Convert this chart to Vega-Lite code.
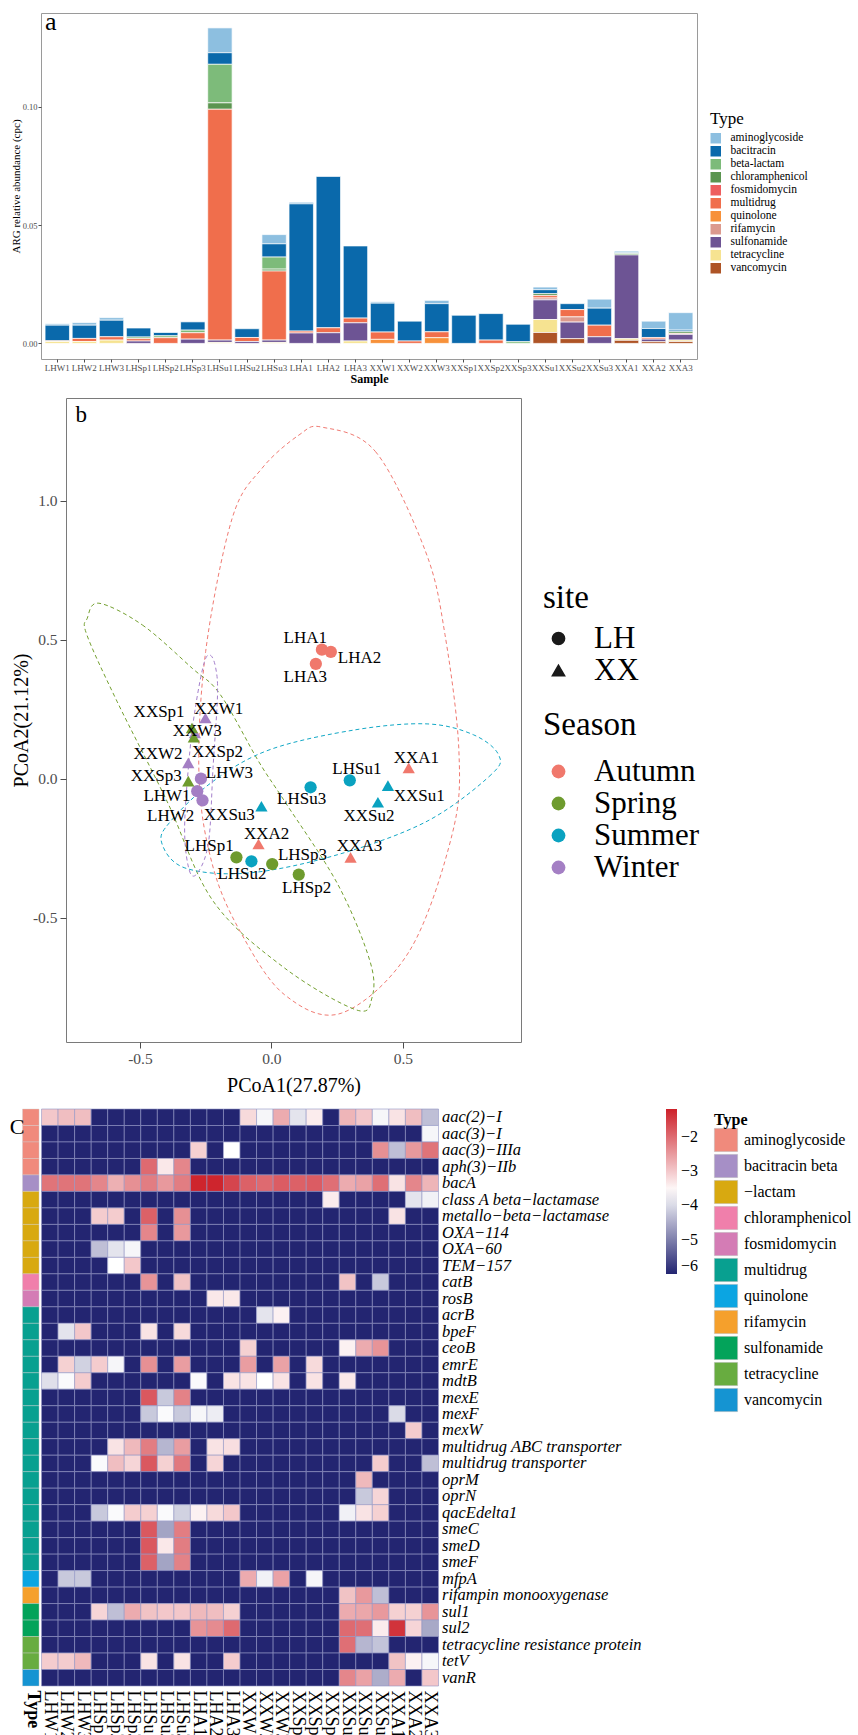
{
"$schema": "https://vega.github.io/schema/vega-lite/v6.json",
"background": "white",
"padding": {"left": 8, "top": 8, "right": 0, "bottom": 0},
"spacing": 12,
"config": {
 "font": "Liberation Serif",
 "view": {"stroke": "#999999"},
 "axis": {"grid": false, "labelColor": "#4d4d4d", "tickColor": "#4d4d4d", "titleColor": "black", "titleFontWeight": "normal"},
 "legend": {"padding": 0, "titleFontWeight": "normal", "titleColor": "black", "labelColor": "black"}
},
"resolve": {"scale": {"color": "independent", "shape": "independent", "stroke": "independent"}, "legend": {"color": "independent", "shape": "independent"}},
"datasets": {
 "bars": [
  {"sample":"LHW1","Type":"aminoglycoside","value":0.0006},{"sample":"LHW1","Type":"bacitracin","value":0.0066},{"sample":"LHW1","Type":"multidrug","value":0.0003},{"sample":"LHW1","Type":"tetracycline","value":0.0008},
  {"sample":"LHW2","Type":"aminoglycoside","value":0.0011},{"sample":"LHW2","Type":"bacitracin","value":0.0056},{"sample":"LHW2","Type":"multidrug","value":0.0013},{"sample":"LHW2","Type":"tetracycline","value":0.0008},
  {"sample":"LHW3","Type":"aminoglycoside","value":0.0011},{"sample":"LHW3","Type":"bacitracin","value":0.007},{"sample":"LHW3","Type":"multidrug","value":0.0014},{"sample":"LHW3","Type":"tetracycline","value":0.0014},
  {"sample":"LHSp1","Type":"bacitracin","value":0.0038},{"sample":"LHSp1","Type":"beta-lactam","value":0.0007},{"sample":"LHSp1","Type":"multidrug","value":0.001},{"sample":"LHSp1","Type":"sulfonamide","value":0.001},
  {"sample":"LHSp2","Type":"bacitracin","value":0.0014},{"sample":"LHSp2","Type":"beta-lactam","value":0.0008},{"sample":"LHSp2","Type":"multidrug","value":0.0024},
  {"sample":"LHSp3","Type":"bacitracin","value":0.0035},{"sample":"LHSp3","Type":"beta-lactam","value":0.0011},{"sample":"LHSp3","Type":"multidrug","value":0.0027},{"sample":"LHSp3","Type":"sulfonamide","value":0.0018},
  {"sample":"LHSu1","Type":"aminoglycoside","value":0.0105},{"sample":"LHSu1","Type":"bacitracin","value":0.0049},{"sample":"LHSu1","Type":"beta-lactam","value":0.0163},{"sample":"LHSu1","Type":"chloramphenicol","value":0.0027},{"sample":"LHSu1","Type":"multidrug","value":0.0976},{"sample":"LHSu1","Type":"sulfonamide","value":0.001},{"sample":"LHSu1","Type":"tetracycline","value":0.0004},
  {"sample":"LHSu2","Type":"bacitracin","value":0.0037},{"sample":"LHSu2","Type":"multidrug","value":0.0017},{"sample":"LHSu2","Type":"sulfonamide","value":0.0008},
  {"sample":"LHSu3","Type":"aminoglycoside","value":0.0039},{"sample":"LHSu3","Type":"bacitracin","value":0.0056},{"sample":"LHSu3","Type":"beta-lactam","value":0.0051},{"sample":"LHSu3","Type":"chloramphenicol","value":0.0008},{"sample":"LHSu3","Type":"multidrug","value":0.0292},{"sample":"LHSu3","Type":"sulfonamide","value":0.001},{"sample":"LHSu3","Type":"tetracycline","value":0.0004},
  {"sample":"LHA1","Type":"aminoglycoside","value":0.0007},{"sample":"LHA1","Type":"bacitracin","value":0.0538},{"sample":"LHA1","Type":"multidrug","value":0.0008},{"sample":"LHA1","Type":"sulfonamide","value":0.0044},
  {"sample":"LHA2","Type":"bacitracin","value":0.064},{"sample":"LHA2","Type":"multidrug","value":0.0021},{"sample":"LHA2","Type":"sulfonamide","value":0.0045},
  {"sample":"LHA3","Type":"bacitracin","value":0.0305},{"sample":"LHA3","Type":"multidrug","value":0.002},{"sample":"LHA3","Type":"sulfonamide","value":0.0077},{"sample":"LHA3","Type":"tetracycline","value":0.001},
  {"sample":"XXW1","Type":"aminoglycoside","value":0.0006},{"sample":"XXW1","Type":"bacitracin","value":0.0122},{"sample":"XXW1","Type":"multidrug","value":0.0031},{"sample":"XXW1","Type":"quinolone","value":0.0017},
  {"sample":"XXW2","Type":"bacitracin","value":0.0084},{"sample":"XXW2","Type":"multidrug","value":0.001},
  {"sample":"XXW3","Type":"aminoglycoside","value":0.0014},{"sample":"XXW3","Type":"bacitracin","value":0.0119},{"sample":"XXW3","Type":"multidrug","value":0.0025},{"sample":"XXW3","Type":"quinolone","value":0.0024},
  {"sample":"XXSp1","Type":"bacitracin","value":0.0119},
  {"sample":"XXSp2","Type":"bacitracin","value":0.0112},{"sample":"XXSp2","Type":"multidrug","value":0.0014},
  {"sample":"XXSp3","Type":"bacitracin","value":0.0074},{"sample":"XXSp3","Type":"beta-lactam","value":0.0007},
  {"sample":"XXSu1","Type":"aminoglycoside","value":0.0011},{"sample":"XXSu1","Type":"bacitracin","value":0.0017},{"sample":"XXSu1","Type":"chloramphenicol","value":0.0008},{"sample":"XXSu1","Type":"multidrug","value":0.001},{"sample":"XXSu1","Type":"rifamycin","value":0.0008},{"sample":"XXSu1","Type":"sulfonamide","value":0.0083},{"sample":"XXSu1","Type":"tetracycline","value":0.0055},{"sample":"XXSu1","Type":"vancomycin","value":0.0046},
  {"sample":"XXSu2","Type":"bacitracin","value":0.0025},{"sample":"XXSu2","Type":"multidrug","value":0.0031},{"sample":"XXSu2","Type":"rifamycin","value":0.0022},{"sample":"XXSu2","Type":"sulfonamide","value":0.007},{"sample":"XXSu2","Type":"vancomycin","value":0.002},
  {"sample":"XXSu3","Type":"aminoglycoside","value":0.0038},{"sample":"XXSu3","Type":"bacitracin","value":0.0072},{"sample":"XXSu3","Type":"multidrug","value":0.0049},{"sample":"XXSu3","Type":"sulfonamide","value":0.0028},
  {"sample":"XXA1","Type":"aminoglycoside","value":0.0006},{"sample":"XXA1","Type":"bacitracin","value":0.0004},{"sample":"XXA1","Type":"chloramphenicol","value":0.0006},{"sample":"XXA1","Type":"sulfonamide","value":0.0354},{"sample":"XXA1","Type":"tetracycline","value":0.0007},{"sample":"XXA1","Type":"vancomycin","value":0.0013},
  {"sample":"XXA2","Type":"aminoglycoside","value":0.0031},{"sample":"XXA2","Type":"bacitracin","value":0.0038},{"sample":"XXA2","Type":"multidrug","value":0.0007},{"sample":"XXA2","Type":"sulfonamide","value":0.0011},{"sample":"XXA2","Type":"vancomycin","value":0.0007},
  {"sample":"XXA3","Type":"aminoglycoside","value":0.0074},{"sample":"XXA3","Type":"bacitracin","value":0.0007},{"sample":"XXA3","Type":"chloramphenicol","value":0.0007},{"sample":"XXA3","Type":"multidrug","value":0.0004},{"sample":"XXA3","Type":"sulfonamide","value":0.0024},{"sample":"XXA3","Type":"tetracycline","value":0.0006},{"sample":"XXA3","Type":"vancomycin","value":0.0008}
 ],
 "pcoa": [
  {"sample":"LHW1","site":"LH","Season":"Winter","PCoA1":-0.282,"PCoA2":-0.044,"lx":-0.397,"ly":-0.062},
  {"sample":"LHW2","site":"LH","Season":"Winter","PCoA1":-0.262,"PCoA2":-0.077,"lx":-0.383,"ly":-0.134},
  {"sample":"LHW3","site":"LH","Season":"Winter","PCoA1":-0.268,"PCoA2":0.001,"lx":-0.16,"ly":0.022},
  {"sample":"LHSp1","site":"LH","Season":"Spring","PCoA1":-0.133,"PCoA2":-0.282,"lx":-0.237,"ly":-0.24},
  {"sample":"LHSp2","site":"LH","Season":"Spring","PCoA1":0.104,"PCoA2":-0.344,"lx":0.134,"ly":-0.392},
  {"sample":"LHSp3","site":"LH","Season":"Spring","PCoA1":0.003,"PCoA2":-0.306,"lx":0.118,"ly":-0.272},
  {"sample":"LHSu1","site":"LH","Season":"Summer","PCoA1":0.298,"PCoA2":-0.005,"lx":0.325,"ly":0.034},
  {"sample":"LHSu2","site":"LH","Season":"Summer","PCoA1":-0.076,"PCoA2":-0.296,"lx":-0.112,"ly":-0.342},
  {"sample":"LHSu3","site":"LH","Season":"Summer","PCoA1":0.149,"PCoA2":-0.03,"lx":0.115,"ly":-0.072},
  {"sample":"LHA1","site":"LH","Season":"Autumn","PCoA1":0.192,"PCoA2":0.465,"lx":0.129,"ly":0.507},
  {"sample":"LHA2","site":"LH","Season":"Autumn","PCoA1":0.226,"PCoA2":0.457,"lx":0.335,"ly":0.435},
  {"sample":"LHA3","site":"LH","Season":"Autumn","PCoA1":0.169,"PCoA2":0.414,"lx":0.129,"ly":0.366},
  {"sample":"XXW1","site":"XX","Season":"Winter","PCoA1":-0.251,"PCoA2":0.219,"lx":-0.2,"ly":0.253},
  {"sample":"XXW2","site":"XX","Season":"Winter","PCoA1":-0.316,"PCoA2":0.058,"lx":-0.431,"ly":0.088},
  {"sample":"XXW3","site":"XX","Season":"Winter","PCoA1":-0.291,"PCoA2":0.165,"lx":-0.282,"ly":0.171},
  {"sample":"XXSp1","site":"XX","Season":"Spring","PCoA1":-0.302,"PCoA2":0.183,"lx":-0.427,"ly":0.241},
  {"sample":"XXSp2","site":"XX","Season":"Spring","PCoA1":-0.295,"PCoA2":0.15,"lx":-0.205,"ly":0.097},
  {"sample":"XXSp3","site":"XX","Season":"Spring","PCoA1":-0.316,"PCoA2":-0.008,"lx":-0.438,"ly":0.01},
  {"sample":"XXSu1","site":"XX","Season":"Summer","PCoA1":0.443,"PCoA2":-0.024,"lx":0.562,"ly":-0.062},
  {"sample":"XXSu2","site":"XX","Season":"Summer","PCoA1":0.405,"PCoA2":-0.084,"lx":0.371,"ly":-0.134},
  {"sample":"XXSu3","site":"XX","Season":"Summer","PCoA1":-0.038,"PCoA2":-0.098,"lx":-0.16,"ly":-0.128},
  {"sample":"XXA1","site":"XX","Season":"Autumn","PCoA1":0.522,"PCoA2":0.04,"lx":0.551,"ly":0.076},
  {"sample":"XXA2","site":"XX","Season":"Autumn","PCoA1":-0.049,"PCoA2":-0.234,"lx":-0.018,"ly":-0.198},
  {"sample":"XXA3","site":"XX","Season":"Autumn","PCoA1":0.301,"PCoA2":-0.282,"lx":0.335,"ly":-0.242}
 ],
 "ellipse": [
  {"grp":"Autumn","i":0,"PCoA1":0.193,"PCoA2":1.265},{"grp":"Autumn","i":1,"PCoA1":0.396,"PCoA2":1.177},{"grp":"Autumn","i":2,"PCoA1":0.586,"PCoA2":0.818},{"grp":"Autumn","i":3,"PCoA1":0.66,"PCoA2":0.519},{"grp":"Autumn","i":4,"PCoA1":0.713,"PCoA2":0.098},{"grp":"Autumn","i":5,"PCoA1":0.687,"PCoA2":-0.2},{"grp":"Autumn","i":6,"PCoA1":0.524,"PCoA2":-0.62},{"grp":"Autumn","i":7,"PCoA1":0.267,"PCoA2":-0.842},{"grp":"Autumn","i":8,"PCoA1":0.05,"PCoA2":-0.776},{"grp":"Autumn","i":9,"PCoA1":-0.112,"PCoA2":-0.56},{"grp":"Autumn","i":10,"PCoA1":-0.221,"PCoA2":-0.32},{"grp":"Autumn","i":11,"PCoA1":-0.275,"PCoA2":0.004},{"grp":"Autumn","i":12,"PCoA1":-0.25,"PCoA2":0.458},{"grp":"Autumn","i":13,"PCoA1":-0.149,"PCoA2":0.938},{"grp":"Autumn","i":14,"PCoA1":-0.035,"PCoA2":1.118},{"grp":"Autumn","i":15,"PCoA1":0.105,"PCoA2":1.237},
  {"grp":"Spring","i":0,"PCoA1":-0.656,"PCoA2":0.632},{"grp":"Spring","i":1,"PCoA1":-0.491,"PCoA2":0.554},{"grp":"Spring","i":2,"PCoA1":-0.301,"PCoA2":0.398},{"grp":"Spring","i":3,"PCoA1":-0.194,"PCoA2":0.303},{"grp":"Spring","i":4,"PCoA1":-0.048,"PCoA2":0.062},{"grp":"Spring","i":5,"PCoA1":0.05,"PCoA2":-0.08},{"grp":"Spring","i":6,"PCoA1":0.253,"PCoA2":-0.38},{"grp":"Spring","i":7,"PCoA1":0.375,"PCoA2":-0.656},{"grp":"Spring","i":8,"PCoA1":0.382,"PCoA2":-0.788},{"grp":"Spring","i":9,"PCoA1":0.321,"PCoA2":-0.83},{"grp":"Spring","i":10,"PCoA1":0.05,"PCoA2":-0.68},{"grp":"Spring","i":11,"PCoA1":-0.221,"PCoA2":-0.44},{"grp":"Spring","i":12,"PCoA1":-0.397,"PCoA2":-0.08},{"grp":"Spring","i":13,"PCoA1":-0.587,"PCoA2":0.279},{"grp":"Spring","i":14,"PCoA1":-0.702,"PCoA2":0.519},{"grp":"Spring","i":15,"PCoA1":-0.7,"PCoA2":0.578},
  {"grp":"Summer","i":0,"PCoA1":0.863,"PCoA2":0.088},{"grp":"Summer","i":1,"PCoA1":0.836,"PCoA2":0.016},{"grp":"Summer","i":2,"PCoA1":0.592,"PCoA2":-0.152},{"grp":"Summer","i":3,"PCoA1":0.253,"PCoA2":-0.272},{"grp":"Summer","i":4,"PCoA1":-0.085,"PCoA2":-0.338},{"grp":"Summer","i":5,"PCoA1":-0.329,"PCoA2":-0.32},{"grp":"Summer","i":6,"PCoA1":-0.417,"PCoA2":-0.23},{"grp":"Summer","i":7,"PCoA1":-0.383,"PCoA2":-0.152},{"grp":"Summer","i":8,"PCoA1":-0.221,"PCoA2":-0.008},{"grp":"Summer","i":9,"PCoA1":-0.004,"PCoA2":0.106},{"grp":"Summer","i":10,"PCoA1":0.321,"PCoA2":0.177},{"grp":"Summer","i":11,"PCoA1":0.592,"PCoA2":0.198},{"grp":"Summer","i":12,"PCoA1":0.768,"PCoA2":0.159},
  {"grp":"Winter","i":0,"PCoA1":-0.232,"PCoA2":0.445},{"grp":"Winter","i":1,"PCoA1":-0.212,"PCoA2":0.4},{"grp":"Winter","i":2,"PCoA1":-0.205,"PCoA2":0.3},{"grp":"Winter","i":3,"PCoA1":-0.222,"PCoA2":0.04},{"grp":"Winter","i":4,"PCoA1":-0.238,"PCoA2":-0.22},{"grp":"Winter","i":5,"PCoA1":-0.275,"PCoA2":-0.33},{"grp":"Winter","i":6,"PCoA1":-0.31,"PCoA2":-0.335},{"grp":"Winter","i":7,"PCoA1":-0.33,"PCoA2":-0.18},{"grp":"Winter","i":8,"PCoA1":-0.31,"PCoA2":0.1},{"grp":"Winter","i":9,"PCoA1":-0.285,"PCoA2":0.28},{"grp":"Winter","i":10,"PCoA1":-0.255,"PCoA2":0.42}
 ],
 "annot": [
  {"gene":"aac(2)−I","ARG":"aminoglycoside"},{"gene":"aac(3)−I","ARG":"aminoglycoside"},{"gene":"aac(3)−IIIa","ARG":"aminoglycoside"},{"gene":"aph(3)−IIb","ARG":"aminoglycoside"},{"gene":"bacA","ARG":"bacitracin"},{"gene":"class A beta−lactamase","ARG":"beta-lactam"},{"gene":"metallo−beta−lactamase","ARG":"beta-lactam"},{"gene":"OXA−114","ARG":"beta-lactam"},{"gene":"OXA−60","ARG":"beta-lactam"},{"gene":"TEM−157","ARG":"beta-lactam"},{"gene":"catB","ARG":"chloramphenicol"},{"gene":"rosB","ARG":"fosmidomycin"},{"gene":"acrB","ARG":"multidrug"},{"gene":"bpeF","ARG":"multidrug"},{"gene":"ceoB","ARG":"multidrug"},{"gene":"emrE","ARG":"multidrug"},{"gene":"mdtB","ARG":"multidrug"},{"gene":"mexE","ARG":"multidrug"},{"gene":"mexF","ARG":"multidrug"},{"gene":"mexW","ARG":"multidrug"},{"gene":"multidrug ABC transporter","ARG":"multidrug"},{"gene":"multidrug transporter","ARG":"multidrug"},{"gene":"oprM","ARG":"multidrug"},{"gene":"oprN","ARG":"multidrug"},{"gene":"qacEdelta1","ARG":"multidrug"},{"gene":"smeC","ARG":"multidrug"},{"gene":"smeD","ARG":"multidrug"},{"gene":"smeF","ARG":"multidrug"},{"gene":"mfpA","ARG":"quinolone"},{"gene":"rifampin monooxygenase","ARG":"rifamycin"},{"gene":"sul1","ARG":"sulfonamide"},{"gene":"sul2","ARG":"sulfonamide"},{"gene":"tetracycline resistance protein","ARG":"tetracycline"},{"gene":"tetV","ARG":"tetracycline"},{"gene":"vanR","ARG":"vancomycin"}
 ],
 "heat": [
{"g":"aac(2)−I","s":"LHW1","v":-3.0},{"g":"aac(2)−I","s":"LHW2","v":-2.9},{"g":"aac(2)−I","s":"LHW3","v":-2.9},{"g":"aac(2)−I","s":"LHSp1","v":-6},{"g":"aac(2)−I","s":"LHSp2","v":-6},{"g":"aac(2)−I","s":"LHSp3","v":-6},{"g":"aac(2)−I","s":"LHSu1","v":-6},{"g":"aac(2)−I","s":"LHSu2","v":-6},{"g":"aac(2)−I","s":"LHSu3","v":-6},{"g":"aac(2)−I","s":"LHA1","v":-6},{"g":"aac(2)−I","s":"LHA2","v":-6},{"g":"aac(2)−I","s":"LHA3","v":-6},{"g":"aac(2)−I","s":"XXW1","v":-3.2},{"g":"aac(2)−I","s":"XXW2","v":-3.7},{"g":"aac(2)−I","s":"XXW3","v":-2.7},{"g":"aac(2)−I","s":"XXSp1","v":-3.9},{"g":"aac(2)−I","s":"XXSp2","v":-3.4},{"g":"aac(2)−I","s":"XXSp3","v":-6},{"g":"aac(2)−I","s":"XXSu1","v":-2.8},{"g":"aac(2)−I","s":"XXSu2","v":-3.0},{"g":"aac(2)−I","s":"XXSu3","v":-3.7},{"g":"aac(2)−I","s":"XXA1","v":-3.3},{"g":"aac(2)−I","s":"XXA2","v":-2.9},{"g":"aac(2)−I","s":"XXA3","v":-4.3},
{"g":"aac(3)−I","s":"LHW1","v":-6},{"g":"aac(3)−I","s":"LHW2","v":-6},{"g":"aac(3)−I","s":"LHW3","v":-6},{"g":"aac(3)−I","s":"LHSp1","v":-6},{"g":"aac(3)−I","s":"LHSp2","v":-6},{"g":"aac(3)−I","s":"LHSp3","v":-6},{"g":"aac(3)−I","s":"LHSu1","v":-6},{"g":"aac(3)−I","s":"LHSu2","v":-6},{"g":"aac(3)−I","s":"LHSu3","v":-6},{"g":"aac(3)−I","s":"LHA1","v":-6},{"g":"aac(3)−I","s":"LHA2","v":-6},{"g":"aac(3)−I","s":"LHA3","v":-6},{"g":"aac(3)−I","s":"XXW1","v":-6},{"g":"aac(3)−I","s":"XXW2","v":-6},{"g":"aac(3)−I","s":"XXW3","v":-6},{"g":"aac(3)−I","s":"XXSp1","v":-6},{"g":"aac(3)−I","s":"XXSp2","v":-6},{"g":"aac(3)−I","s":"XXSp3","v":-6},{"g":"aac(3)−I","s":"XXSu1","v":-6},{"g":"aac(3)−I","s":"XXSu2","v":-6},{"g":"aac(3)−I","s":"XXSu3","v":-6},{"g":"aac(3)−I","s":"XXA1","v":-6},{"g":"aac(3)−I","s":"XXA2","v":-6},{"g":"aac(3)−I","s":"XXA3","v":-3.7},
{"g":"aac(3)−IIIa","s":"LHW1","v":-6},{"g":"aac(3)−IIIa","s":"LHW2","v":-6},{"g":"aac(3)−IIIa","s":"LHW3","v":-6},{"g":"aac(3)−IIIa","s":"LHSp1","v":-6},{"g":"aac(3)−IIIa","s":"LHSp2","v":-6},{"g":"aac(3)−IIIa","s":"LHSp3","v":-6},{"g":"aac(3)−IIIa","s":"LHSu1","v":-6},{"g":"aac(3)−IIIa","s":"LHSu2","v":-6},{"g":"aac(3)−IIIa","s":"LHSu3","v":-6},{"g":"aac(3)−IIIa","s":"LHA1","v":-3.1},{"g":"aac(3)−IIIa","s":"LHA2","v":-6},{"g":"aac(3)−IIIa","s":"LHA3","v":-3.6},{"g":"aac(3)−IIIa","s":"XXW1","v":-6},{"g":"aac(3)−IIIa","s":"XXW2","v":-6},{"g":"aac(3)−IIIa","s":"XXW3","v":-6},{"g":"aac(3)−IIIa","s":"XXSp1","v":-6},{"g":"aac(3)−IIIa","s":"XXSp2","v":-6},{"g":"aac(3)−IIIa","s":"XXSp3","v":-6},{"g":"aac(3)−IIIa","s":"XXSu1","v":-6},{"g":"aac(3)−IIIa","s":"XXSu2","v":-6},{"g":"aac(3)−IIIa","s":"XXSu3","v":-2.4},{"g":"aac(3)−IIIa","s":"XXA1","v":-4.3},{"g":"aac(3)−IIIa","s":"XXA2","v":-2.5},{"g":"aac(3)−IIIa","s":"XXA3","v":-2.1},
{"g":"aph(3)−IIb","s":"LHW1","v":-6},{"g":"aph(3)−IIb","s":"LHW2","v":-6},{"g":"aph(3)−IIb","s":"LHW3","v":-6},{"g":"aph(3)−IIb","s":"LHSp1","v":-6},{"g":"aph(3)−IIb","s":"LHSp2","v":-6},{"g":"aph(3)−IIb","s":"LHSp3","v":-6},{"g":"aph(3)−IIb","s":"LHSu1","v":-2.0},{"g":"aph(3)−IIb","s":"LHSu2","v":-3.35},{"g":"aph(3)−IIb","s":"LHSu3","v":-2.3},{"g":"aph(3)−IIb","s":"LHA1","v":-6},{"g":"aph(3)−IIb","s":"LHA2","v":-6},{"g":"aph(3)−IIb","s":"LHA3","v":-6},{"g":"aph(3)−IIb","s":"XXW1","v":-6},{"g":"aph(3)−IIb","s":"XXW2","v":-6},{"g":"aph(3)−IIb","s":"XXW3","v":-6},{"g":"aph(3)−IIb","s":"XXSp1","v":-6},{"g":"aph(3)−IIb","s":"XXSp2","v":-6},{"g":"aph(3)−IIb","s":"XXSp3","v":-6},{"g":"aph(3)−IIb","s":"XXSu1","v":-6},{"g":"aph(3)−IIb","s":"XXSu2","v":-6},{"g":"aph(3)−IIb","s":"XXSu3","v":-6},{"g":"aph(3)−IIb","s":"XXA1","v":-6},{"g":"aph(3)−IIb","s":"XXA2","v":-6},{"g":"aph(3)−IIb","s":"XXA3","v":-6},
{"g":"bacA","s":"LHW1","v":-2.1},{"g":"bacA","s":"LHW2","v":-2.1},{"g":"bacA","s":"LHW3","v":-2.1},{"g":"bacA","s":"LHSp1","v":-2.3},{"g":"bacA","s":"LHSp2","v":-2.75},{"g":"bacA","s":"LHSp3","v":-2.4},{"g":"bacA","s":"LHSu1","v":-2.2},{"g":"bacA","s":"LHSu2","v":-2.5},{"g":"bacA","s":"LHSu3","v":-2.2},{"g":"bacA","s":"LHA1","v":-1.25},{"g":"bacA","s":"LHA2","v":-1.25},{"g":"bacA","s":"LHA3","v":-1.6},{"g":"bacA","s":"XXW1","v":-1.9},{"g":"bacA","s":"XXW2","v":-2.0},{"g":"bacA","s":"XXW3","v":-1.85},{"g":"bacA","s":"XXSp1","v":-1.9},{"g":"bacA","s":"XXSp2","v":-1.85},{"g":"bacA","s":"XXSp3","v":-2.05},{"g":"bacA","s":"XXSu1","v":-2.7},{"g":"bacA","s":"XXSu2","v":-2.6},{"g":"bacA","s":"XXSu3","v":-2.05},{"g":"bacA","s":"XXA1","v":-3.3},{"g":"bacA","s":"XXA2","v":-2.3},{"g":"bacA","s":"XXA3","v":-2.8},
{"g":"class A beta−lactamase","s":"LHW1","v":-6},{"g":"class A beta−lactamase","s":"LHW2","v":-6},{"g":"class A beta−lactamase","s":"LHW3","v":-6},{"g":"class A beta−lactamase","s":"LHSp1","v":-6},{"g":"class A beta−lactamase","s":"LHSp2","v":-6},{"g":"class A beta−lactamase","s":"LHSp3","v":-6},{"g":"class A beta−lactamase","s":"LHSu1","v":-6},{"g":"class A beta−lactamase","s":"LHSu2","v":-6},{"g":"class A beta−lactamase","s":"LHSu3","v":-6},{"g":"class A beta−lactamase","s":"LHA1","v":-6},{"g":"class A beta−lactamase","s":"LHA2","v":-6},{"g":"class A beta−lactamase","s":"LHA3","v":-6},{"g":"class A beta−lactamase","s":"XXW1","v":-6},{"g":"class A beta−lactamase","s":"XXW2","v":-6},{"g":"class A beta−lactamase","s":"XXW3","v":-6},{"g":"class A beta−lactamase","s":"XXSp1","v":-6},{"g":"class A beta−lactamase","s":"XXSp2","v":-6},{"g":"class A beta−lactamase","s":"XXSp3","v":-3.4},{"g":"class A beta−lactamase","s":"XXSu1","v":-6},{"g":"class A beta−lactamase","s":"XXSu2","v":-6},{"g":"class A beta−lactamase","s":"XXSu3","v":-6},{"g":"class A beta−lactamase","s":"XXA1","v":-6},{"g":"class A beta−lactamase","s":"XXA2","v":-3.9},{"g":"class A beta−lactamase","s":"XXA3","v":-3.75},
{"g":"metallo−beta−lactamase","s":"LHW1","v":-6},{"g":"metallo−beta−lactamase","s":"LHW2","v":-6},{"g":"metallo−beta−lactamase","s":"LHW3","v":-6},{"g":"metallo−beta−lactamase","s":"LHSp1","v":-3.05},{"g":"metallo−beta−lactamase","s":"LHSp2","v":-3.05},{"g":"metallo−beta−lactamase","s":"LHSp3","v":-6},{"g":"metallo−beta−lactamase","s":"LHSu1","v":-1.9},{"g":"metallo−beta−lactamase","s":"LHSu2","v":-6},{"g":"metallo−beta−lactamase","s":"LHSu3","v":-2.4},{"g":"metallo−beta−lactamase","s":"LHA1","v":-6},{"g":"metallo−beta−lactamase","s":"LHA2","v":-6},{"g":"metallo−beta−lactamase","s":"LHA3","v":-6},{"g":"metallo−beta−lactamase","s":"XXW1","v":-6},{"g":"metallo−beta−lactamase","s":"XXW2","v":-6},{"g":"metallo−beta−lactamase","s":"XXW3","v":-6},{"g":"metallo−beta−lactamase","s":"XXSp1","v":-6},{"g":"metallo−beta−lactamase","s":"XXSp2","v":-6},{"g":"metallo−beta−lactamase","s":"XXSp3","v":-6},{"g":"metallo−beta−lactamase","s":"XXSu1","v":-6},{"g":"metallo−beta−lactamase","s":"XXSu2","v":-6},{"g":"metallo−beta−lactamase","s":"XXSu3","v":-6},{"g":"metallo−beta−lactamase","s":"XXA1","v":-3.3},{"g":"metallo−beta−lactamase","s":"XXA2","v":-6},{"g":"metallo−beta−lactamase","s":"XXA3","v":-6},
{"g":"OXA−114","s":"LHW1","v":-6},{"g":"OXA−114","s":"LHW2","v":-6},{"g":"OXA−114","s":"LHW3","v":-6},{"g":"OXA−114","s":"LHSp1","v":-6},{"g":"OXA−114","s":"LHSp2","v":-6},{"g":"OXA−114","s":"LHSp3","v":-6},{"g":"OXA−114","s":"LHSu1","v":-2.3},{"g":"OXA−114","s":"LHSu2","v":-6},{"g":"OXA−114","s":"LHSu3","v":-2.5},{"g":"OXA−114","s":"LHA1","v":-6},{"g":"OXA−114","s":"LHA2","v":-6},{"g":"OXA−114","s":"LHA3","v":-6},{"g":"OXA−114","s":"XXW1","v":-6},{"g":"OXA−114","s":"XXW2","v":-6},{"g":"OXA−114","s":"XXW3","v":-6},{"g":"OXA−114","s":"XXSp1","v":-6},{"g":"OXA−114","s":"XXSp2","v":-6},{"g":"OXA−114","s":"XXSp3","v":-6},{"g":"OXA−114","s":"XXSu1","v":-6},{"g":"OXA−114","s":"XXSu2","v":-6},{"g":"OXA−114","s":"XXSu3","v":-6},{"g":"OXA−114","s":"XXA1","v":-6},{"g":"OXA−114","s":"XXA2","v":-6},{"g":"OXA−114","s":"XXA3","v":-6},
{"g":"OXA−60","s":"LHW1","v":-6},{"g":"OXA−60","s":"LHW2","v":-6},{"g":"OXA−60","s":"LHW3","v":-6},{"g":"OXA−60","s":"LHSp1","v":-4.3},{"g":"OXA−60","s":"LHSp2","v":-3.9},{"g":"OXA−60","s":"LHSp3","v":-3.7},{"g":"OXA−60","s":"LHSu1","v":-6},{"g":"OXA−60","s":"LHSu2","v":-6},{"g":"OXA−60","s":"LHSu3","v":-6},{"g":"OXA−60","s":"LHA1","v":-6},{"g":"OXA−60","s":"LHA2","v":-6},{"g":"OXA−60","s":"LHA3","v":-6},{"g":"OXA−60","s":"XXW1","v":-6},{"g":"OXA−60","s":"XXW2","v":-6},{"g":"OXA−60","s":"XXW3","v":-6},{"g":"OXA−60","s":"XXSp1","v":-6},{"g":"OXA−60","s":"XXSp2","v":-6},{"g":"OXA−60","s":"XXSp3","v":-6},{"g":"OXA−60","s":"XXSu1","v":-6},{"g":"OXA−60","s":"XXSu2","v":-6},{"g":"OXA−60","s":"XXSu3","v":-6},{"g":"OXA−60","s":"XXA1","v":-6},{"g":"OXA−60","s":"XXA2","v":-6},{"g":"OXA−60","s":"XXA3","v":-6},
{"g":"TEM−157","s":"LHW1","v":-6},{"g":"TEM−157","s":"LHW2","v":-6},{"g":"TEM−157","s":"LHW3","v":-6},{"g":"TEM−157","s":"LHSp1","v":-6},{"g":"TEM−157","s":"LHSp2","v":-3.6},{"g":"TEM−157","s":"LHSp3","v":-3.0},{"g":"TEM−157","s":"LHSu1","v":-6},{"g":"TEM−157","s":"LHSu2","v":-6},{"g":"TEM−157","s":"LHSu3","v":-6},{"g":"TEM−157","s":"LHA1","v":-6},{"g":"TEM−157","s":"LHA2","v":-6},{"g":"TEM−157","s":"LHA3","v":-6},{"g":"TEM−157","s":"XXW1","v":-6},{"g":"TEM−157","s":"XXW2","v":-6},{"g":"TEM−157","s":"XXW3","v":-6},{"g":"TEM−157","s":"XXSp1","v":-6},{"g":"TEM−157","s":"XXSp2","v":-6},{"g":"TEM−157","s":"XXSp3","v":-6},{"g":"TEM−157","s":"XXSu1","v":-6},{"g":"TEM−157","s":"XXSu2","v":-6},{"g":"TEM−157","s":"XXSu3","v":-6},{"g":"TEM−157","s":"XXA1","v":-6},{"g":"TEM−157","s":"XXA2","v":-6},{"g":"TEM−157","s":"XXA3","v":-6},
{"g":"catB","s":"LHW1","v":-6},{"g":"catB","s":"LHW2","v":-6},{"g":"catB","s":"LHW3","v":-6},{"g":"catB","s":"LHSp1","v":-6},{"g":"catB","s":"LHSp2","v":-6},{"g":"catB","s":"LHSp3","v":-6},{"g":"catB","s":"LHSu1","v":-2.45},{"g":"catB","s":"LHSu2","v":-6},{"g":"catB","s":"LHSu3","v":-2.95},{"g":"catB","s":"LHA1","v":-6},{"g":"catB","s":"LHA2","v":-6},{"g":"catB","s":"LHA3","v":-6},{"g":"catB","s":"XXW1","v":-6},{"g":"catB","s":"XXW2","v":-6},{"g":"catB","s":"XXW3","v":-6},{"g":"catB","s":"XXSp1","v":-6},{"g":"catB","s":"XXSp2","v":-6},{"g":"catB","s":"XXSp3","v":-6},{"g":"catB","s":"XXSu1","v":-2.95},{"g":"catB","s":"XXSu2","v":-6},{"g":"catB","s":"XXSu3","v":-4.2},{"g":"catB","s":"XXA1","v":-6},{"g":"catB","s":"XXA2","v":-6},{"g":"catB","s":"XXA3","v":-6},
{"g":"rosB","s":"LHW1","v":-6},{"g":"rosB","s":"LHW2","v":-6},{"g":"rosB","s":"LHW3","v":-6},{"g":"rosB","s":"LHSp1","v":-6},{"g":"rosB","s":"LHSp2","v":-6},{"g":"rosB","s":"LHSp3","v":-6},{"g":"rosB","s":"LHSu1","v":-6},{"g":"rosB","s":"LHSu2","v":-6},{"g":"rosB","s":"LHSu3","v":-6},{"g":"rosB","s":"LHA1","v":-6},{"g":"rosB","s":"LHA2","v":-3.35},{"g":"rosB","s":"LHA3","v":-3.35},{"g":"rosB","s":"XXW1","v":-6},{"g":"rosB","s":"XXW2","v":-6},{"g":"rosB","s":"XXW3","v":-6},{"g":"rosB","s":"XXSp1","v":-6},{"g":"rosB","s":"XXSp2","v":-6},{"g":"rosB","s":"XXSp3","v":-6},{"g":"rosB","s":"XXSu1","v":-6},{"g":"rosB","s":"XXSu2","v":-6},{"g":"rosB","s":"XXSu3","v":-6},{"g":"rosB","s":"XXA1","v":-6},{"g":"rosB","s":"XXA2","v":-6},{"g":"rosB","s":"XXA3","v":-6},
{"g":"acrB","s":"LHW1","v":-6},{"g":"acrB","s":"LHW2","v":-6},{"g":"acrB","s":"LHW3","v":-6},{"g":"acrB","s":"LHSp1","v":-6},{"g":"acrB","s":"LHSp2","v":-6},{"g":"acrB","s":"LHSp3","v":-6},{"g":"acrB","s":"LHSu1","v":-6},{"g":"acrB","s":"LHSu2","v":-6},{"g":"acrB","s":"LHSu3","v":-6},{"g":"acrB","s":"LHA1","v":-6},{"g":"acrB","s":"LHA2","v":-6},{"g":"acrB","s":"LHA3","v":-6},{"g":"acrB","s":"XXW1","v":-6},{"g":"acrB","s":"XXW2","v":-3.9},{"g":"acrB","s":"XXW3","v":-3.45},{"g":"acrB","s":"XXSp1","v":-6},{"g":"acrB","s":"XXSp2","v":-6},{"g":"acrB","s":"XXSp3","v":-6},{"g":"acrB","s":"XXSu1","v":-6},{"g":"acrB","s":"XXSu2","v":-6},{"g":"acrB","s":"XXSu3","v":-6},{"g":"acrB","s":"XXA1","v":-6},{"g":"acrB","s":"XXA2","v":-6},{"g":"acrB","s":"XXA3","v":-6},
{"g":"bpeF","s":"LHW1","v":-6},{"g":"bpeF","s":"LHW2","v":-3.9},{"g":"bpeF","s":"LHW3","v":-3.0},{"g":"bpeF","s":"LHSp1","v":-6},{"g":"bpeF","s":"LHSp2","v":-6},{"g":"bpeF","s":"LHSp3","v":-6},{"g":"bpeF","s":"LHSu1","v":-3.3},{"g":"bpeF","s":"LHSu2","v":-6},{"g":"bpeF","s":"LHSu3","v":-3.2},{"g":"bpeF","s":"LHA1","v":-6},{"g":"bpeF","s":"LHA2","v":-6},{"g":"bpeF","s":"LHA3","v":-6},{"g":"bpeF","s":"XXW1","v":-6},{"g":"bpeF","s":"XXW2","v":-6},{"g":"bpeF","s":"XXW3","v":-6},{"g":"bpeF","s":"XXSp1","v":-6},{"g":"bpeF","s":"XXSp2","v":-6},{"g":"bpeF","s":"XXSp3","v":-6},{"g":"bpeF","s":"XXSu1","v":-6},{"g":"bpeF","s":"XXSu2","v":-6},{"g":"bpeF","s":"XXSu3","v":-6},{"g":"bpeF","s":"XXA1","v":-6},{"g":"bpeF","s":"XXA2","v":-6},{"g":"bpeF","s":"XXA3","v":-6},
{"g":"ceoB","s":"LHW1","v":-6},{"g":"ceoB","s":"LHW2","v":-6},{"g":"ceoB","s":"LHW3","v":-6},{"g":"ceoB","s":"LHSp1","v":-6},{"g":"ceoB","s":"LHSp2","v":-6},{"g":"ceoB","s":"LHSp3","v":-6},{"g":"ceoB","s":"LHSu1","v":-6},{"g":"ceoB","s":"LHSu2","v":-6},{"g":"ceoB","s":"LHSu3","v":-6},{"g":"ceoB","s":"LHA1","v":-6},{"g":"ceoB","s":"LHA2","v":-6},{"g":"ceoB","s":"LHA3","v":-6},{"g":"ceoB","s":"XXW1","v":-3.1},{"g":"ceoB","s":"XXW2","v":-6},{"g":"ceoB","s":"XXW3","v":-6},{"g":"ceoB","s":"XXSp1","v":-6},{"g":"ceoB","s":"XXSp2","v":-6},{"g":"ceoB","s":"XXSp3","v":-6},{"g":"ceoB","s":"XXSu1","v":-3.45},{"g":"ceoB","s":"XXSu2","v":-2.7},{"g":"ceoB","s":"XXSu3","v":-2.45},{"g":"ceoB","s":"XXA1","v":-6},{"g":"ceoB","s":"XXA2","v":-6},{"g":"ceoB","s":"XXA3","v":-6},
{"g":"emrE","s":"LHW1","v":-6},{"g":"emrE","s":"LHW2","v":-3.1},{"g":"emrE","s":"LHW3","v":-4.1},{"g":"emrE","s":"LHSp1","v":-3.05},{"g":"emrE","s":"LHSp2","v":-3.7},{"g":"emrE","s":"LHSp3","v":-6},{"g":"emrE","s":"LHSu1","v":-2.4},{"g":"emrE","s":"LHSu2","v":-6},{"g":"emrE","s":"LHSu3","v":-2.55},{"g":"emrE","s":"LHA1","v":-6},{"g":"emrE","s":"LHA2","v":-6},{"g":"emrE","s":"LHA3","v":-6},{"g":"emrE","s":"XXW1","v":-2.55},{"g":"emrE","s":"XXW2","v":-6},{"g":"emrE","s":"XXW3","v":-2.6},{"g":"emrE","s":"XXSp1","v":-6},{"g":"emrE","s":"XXSp2","v":-3.2},{"g":"emrE","s":"XXSp3","v":-6},{"g":"emrE","s":"XXSu1","v":-6},{"g":"emrE","s":"XXSu2","v":-6},{"g":"emrE","s":"XXSu3","v":-6},{"g":"emrE","s":"XXA1","v":-6},{"g":"emrE","s":"XXA2","v":-6},{"g":"emrE","s":"XXA3","v":-6},
{"g":"mdtB","s":"LHW1","v":-3.95},{"g":"mdtB","s":"LHW2","v":-3.65},{"g":"mdtB","s":"LHW3","v":-3.05},{"g":"mdtB","s":"LHSp1","v":-6},{"g":"mdtB","s":"LHSp2","v":-6},{"g":"mdtB","s":"LHSp3","v":-6},{"g":"mdtB","s":"LHSu1","v":-6},{"g":"mdtB","s":"LHSu2","v":-6},{"g":"mdtB","s":"LHSu3","v":-6},{"g":"mdtB","s":"LHA1","v":-3.65},{"g":"mdtB","s":"LHA2","v":-6},{"g":"mdtB","s":"LHA3","v":-3.3},{"g":"mdtB","s":"XXW1","v":-3.3},{"g":"mdtB","s":"XXW2","v":-3.6},{"g":"mdtB","s":"XXW3","v":-3.3},{"g":"mdtB","s":"XXSp1","v":-6},{"g":"mdtB","s":"XXSp2","v":-3.3},{"g":"mdtB","s":"XXSp3","v":-6},{"g":"mdtB","s":"XXSu1","v":-3.35},{"g":"mdtB","s":"XXSu2","v":-6},{"g":"mdtB","s":"XXSu3","v":-6},{"g":"mdtB","s":"XXA1","v":-6},{"g":"mdtB","s":"XXA2","v":-6},{"g":"mdtB","s":"XXA3","v":-6},
{"g":"mexE","s":"LHW1","v":-6},{"g":"mexE","s":"LHW2","v":-6},{"g":"mexE","s":"LHW3","v":-6},{"g":"mexE","s":"LHSp1","v":-6},{"g":"mexE","s":"LHSp2","v":-6},{"g":"mexE","s":"LHSp3","v":-6},{"g":"mexE","s":"LHSu1","v":-1.8},{"g":"mexE","s":"LHSu2","v":-4.2},{"g":"mexE","s":"LHSu3","v":-2.25},{"g":"mexE","s":"LHA1","v":-6},{"g":"mexE","s":"LHA2","v":-6},{"g":"mexE","s":"LHA3","v":-6},{"g":"mexE","s":"XXW1","v":-6},{"g":"mexE","s":"XXW2","v":-6},{"g":"mexE","s":"XXW3","v":-6},{"g":"mexE","s":"XXSp1","v":-6},{"g":"mexE","s":"XXSp2","v":-6},{"g":"mexE","s":"XXSp3","v":-6},{"g":"mexE","s":"XXSu1","v":-6},{"g":"mexE","s":"XXSu2","v":-6},{"g":"mexE","s":"XXSu3","v":-6},{"g":"mexE","s":"XXA1","v":-6},{"g":"mexE","s":"XXA2","v":-6},{"g":"mexE","s":"XXA3","v":-6},
{"g":"mexF","s":"LHW1","v":-6},{"g":"mexF","s":"LHW2","v":-6},{"g":"mexF","s":"LHW3","v":-6},{"g":"mexF","s":"LHSp1","v":-6},{"g":"mexF","s":"LHSp2","v":-6},{"g":"mexF","s":"LHSp3","v":-6},{"g":"mexF","s":"LHSu1","v":-4.2},{"g":"mexF","s":"LHSu2","v":-3.65},{"g":"mexF","s":"LHSu3","v":-4.2},{"g":"mexF","s":"LHA1","v":-3.7},{"g":"mexF","s":"LHA2","v":-3.8},{"g":"mexF","s":"LHA3","v":-6},{"g":"mexF","s":"XXW1","v":-6},{"g":"mexF","s":"XXW2","v":-6},{"g":"mexF","s":"XXW3","v":-6},{"g":"mexF","s":"XXSp1","v":-6},{"g":"mexF","s":"XXSp2","v":-6},{"g":"mexF","s":"XXSp3","v":-6},{"g":"mexF","s":"XXSu1","v":-6},{"g":"mexF","s":"XXSu2","v":-6},{"g":"mexF","s":"XXSu3","v":-6},{"g":"mexF","s":"XXA1","v":-4.0},{"g":"mexF","s":"XXA2","v":-6},{"g":"mexF","s":"XXA3","v":-6},
{"g":"mexW","s":"LHW1","v":-6},{"g":"mexW","s":"LHW2","v":-6},{"g":"mexW","s":"LHW3","v":-6},{"g":"mexW","s":"LHSp1","v":-6},{"g":"mexW","s":"LHSp2","v":-6},{"g":"mexW","s":"LHSp3","v":-6},{"g":"mexW","s":"LHSu1","v":-6},{"g":"mexW","s":"LHSu2","v":-6},{"g":"mexW","s":"LHSu3","v":-6},{"g":"mexW","s":"LHA1","v":-6},{"g":"mexW","s":"LHA2","v":-6},{"g":"mexW","s":"LHA3","v":-6},{"g":"mexW","s":"XXW1","v":-6},{"g":"mexW","s":"XXW2","v":-6},{"g":"mexW","s":"XXW3","v":-6},{"g":"mexW","s":"XXSp1","v":-6},{"g":"mexW","s":"XXSp2","v":-6},{"g":"mexW","s":"XXSp3","v":-6},{"g":"mexW","s":"XXSu1","v":-6},{"g":"mexW","s":"XXSu2","v":-6},{"g":"mexW","s":"XXSu3","v":-6},{"g":"mexW","s":"XXA1","v":-6},{"g":"mexW","s":"XXA2","v":-3.05},{"g":"mexW","s":"XXA3","v":-6},
{"g":"multidrug ABC transporter","s":"LHW1","v":-6},{"g":"multidrug ABC transporter","s":"LHW2","v":-6},{"g":"multidrug ABC transporter","s":"LHW3","v":-6},{"g":"multidrug ABC transporter","s":"LHSp1","v":-6},{"g":"multidrug ABC transporter","s":"LHSp2","v":-3.3},{"g":"multidrug ABC transporter","s":"LHSp3","v":-2.85},{"g":"multidrug ABC transporter","s":"LHSu1","v":-2.2},{"g":"multidrug ABC transporter","s":"LHSu2","v":-4.4},{"g":"multidrug ABC transporter","s":"LHSu3","v":-2.55},{"g":"multidrug ABC transporter","s":"LHA1","v":-6},{"g":"multidrug ABC transporter","s":"LHA2","v":-3.3},{"g":"multidrug ABC transporter","s":"LHA3","v":-3.25},{"g":"multidrug ABC transporter","s":"XXW1","v":-6},{"g":"multidrug ABC transporter","s":"XXW2","v":-6},{"g":"multidrug ABC transporter","s":"XXW3","v":-6},{"g":"multidrug ABC transporter","s":"XXSp1","v":-6},{"g":"multidrug ABC transporter","s":"XXSp2","v":-6},{"g":"multidrug ABC transporter","s":"XXSp3","v":-6},{"g":"multidrug ABC transporter","s":"XXSu1","v":-6},{"g":"multidrug ABC transporter","s":"XXSu2","v":-6},{"g":"multidrug ABC transporter","s":"XXSu3","v":-6},{"g":"multidrug ABC transporter","s":"XXA1","v":-6},{"g":"multidrug ABC transporter","s":"XXA2","v":-6},{"g":"multidrug ABC transporter","s":"XXA3","v":-6},
{"g":"multidrug transporter","s":"LHW1","v":-6},{"g":"multidrug transporter","s":"LHW2","v":-6},{"g":"multidrug transporter","s":"LHW3","v":-6},{"g":"multidrug transporter","s":"LHSp1","v":-3.65},{"g":"multidrug transporter","s":"LHSp2","v":-2.9},{"g":"multidrug transporter","s":"LHSp3","v":-3.15},{"g":"multidrug transporter","s":"LHSu1","v":-1.8},{"g":"multidrug transporter","s":"LHSu2","v":-3.1},{"g":"multidrug transporter","s":"LHSu3","v":-2.15},{"g":"multidrug transporter","s":"LHA1","v":-6},{"g":"multidrug transporter","s":"LHA2","v":-3.15},{"g":"multidrug transporter","s":"LHA3","v":-6},{"g":"multidrug transporter","s":"XXW1","v":-6},{"g":"multidrug transporter","s":"XXW2","v":-6},{"g":"multidrug transporter","s":"XXW3","v":-6},{"g":"multidrug transporter","s":"XXSp1","v":-6},{"g":"multidrug transporter","s":"XXSp2","v":-6},{"g":"multidrug transporter","s":"XXSp3","v":-6},{"g":"multidrug transporter","s":"XXSu1","v":-6},{"g":"multidrug transporter","s":"XXSu2","v":-6},{"g":"multidrug transporter","s":"XXSu3","v":-3.05},{"g":"multidrug transporter","s":"XXA1","v":-6},{"g":"multidrug transporter","s":"XXA2","v":-6},{"g":"multidrug transporter","s":"XXA3","v":-4.3},
{"g":"oprM","s":"LHW1","v":-6},{"g":"oprM","s":"LHW2","v":-6},{"g":"oprM","s":"LHW3","v":-6},{"g":"oprM","s":"LHSp1","v":-6},{"g":"oprM","s":"LHSp2","v":-6},{"g":"oprM","s":"LHSp3","v":-6},{"g":"oprM","s":"LHSu1","v":-6},{"g":"oprM","s":"LHSu2","v":-6},{"g":"oprM","s":"LHSu3","v":-6},{"g":"oprM","s":"LHA1","v":-6},{"g":"oprM","s":"LHA2","v":-6},{"g":"oprM","s":"LHA3","v":-6},{"g":"oprM","s":"XXW1","v":-6},{"g":"oprM","s":"XXW2","v":-6},{"g":"oprM","s":"XXW3","v":-6},{"g":"oprM","s":"XXSp1","v":-6},{"g":"oprM","s":"XXSp2","v":-6},{"g":"oprM","s":"XXSp3","v":-6},{"g":"oprM","s":"XXSu1","v":-6},{"g":"oprM","s":"XXSu2","v":-2.85},{"g":"oprM","s":"XXSu3","v":-6},{"g":"oprM","s":"XXA1","v":-6},{"g":"oprM","s":"XXA2","v":-6},{"g":"oprM","s":"XXA3","v":-6},
{"g":"oprN","s":"LHW1","v":-6},{"g":"oprN","s":"LHW2","v":-6},{"g":"oprN","s":"LHW3","v":-6},{"g":"oprN","s":"LHSp1","v":-6},{"g":"oprN","s":"LHSp2","v":-6},{"g":"oprN","s":"LHSp3","v":-6},{"g":"oprN","s":"LHSu1","v":-6},{"g":"oprN","s":"LHSu2","v":-6},{"g":"oprN","s":"LHSu3","v":-6},{"g":"oprN","s":"LHA1","v":-6},{"g":"oprN","s":"LHA2","v":-6},{"g":"oprN","s":"LHA3","v":-6},{"g":"oprN","s":"XXW1","v":-6},{"g":"oprN","s":"XXW2","v":-6},{"g":"oprN","s":"XXW3","v":-6},{"g":"oprN","s":"XXSp1","v":-6},{"g":"oprN","s":"XXSp2","v":-6},{"g":"oprN","s":"XXSp3","v":-6},{"g":"oprN","s":"XXSu1","v":-6},{"g":"oprN","s":"XXSu2","v":-4.2},{"g":"oprN","s":"XXSu3","v":-3.15},{"g":"oprN","s":"XXA1","v":-6},{"g":"oprN","s":"XXA2","v":-6},{"g":"oprN","s":"XXA3","v":-6},
{"g":"qacEdelta1","s":"LHW1","v":-6},{"g":"qacEdelta1","s":"LHW2","v":-6},{"g":"qacEdelta1","s":"LHW3","v":-6},{"g":"qacEdelta1","s":"LHSp1","v":-4.2},{"g":"qacEdelta1","s":"LHSp2","v":-3.65},{"g":"qacEdelta1","s":"LHSp3","v":-3.05},{"g":"qacEdelta1","s":"LHSu1","v":-3.1},{"g":"qacEdelta1","s":"LHSu2","v":-3.65},{"g":"qacEdelta1","s":"LHSu3","v":-4.1},{"g":"qacEdelta1","s":"LHA1","v":-3.45},{"g":"qacEdelta1","s":"LHA2","v":-3.2},{"g":"qacEdelta1","s":"LHA3","v":-3.0},{"g":"qacEdelta1","s":"XXW1","v":-6},{"g":"qacEdelta1","s":"XXW2","v":-6},{"g":"qacEdelta1","s":"XXW3","v":-6},{"g":"qacEdelta1","s":"XXSp1","v":-6},{"g":"qacEdelta1","s":"XXSp2","v":-6},{"g":"qacEdelta1","s":"XXSp3","v":-6},{"g":"qacEdelta1","s":"XXSu1","v":-3.75},{"g":"qacEdelta1","s":"XXSu2","v":-3.3},{"g":"qacEdelta1","s":"XXSu3","v":-3.1},{"g":"qacEdelta1","s":"XXA1","v":-6},{"g":"qacEdelta1","s":"XXA2","v":-6},{"g":"qacEdelta1","s":"XXA3","v":-6},
{"g":"smeC","s":"LHW1","v":-6},{"g":"smeC","s":"LHW2","v":-6},{"g":"smeC","s":"LHW3","v":-6},{"g":"smeC","s":"LHSp1","v":-6},{"g":"smeC","s":"LHSp2","v":-6},{"g":"smeC","s":"LHSp3","v":-6},{"g":"smeC","s":"LHSu1","v":-1.8},{"g":"smeC","s":"LHSu2","v":-4.6},{"g":"smeC","s":"LHSu3","v":-2.2},{"g":"smeC","s":"LHA1","v":-6},{"g":"smeC","s":"LHA2","v":-6},{"g":"smeC","s":"LHA3","v":-6},{"g":"smeC","s":"XXW1","v":-6},{"g":"smeC","s":"XXW2","v":-6},{"g":"smeC","s":"XXW3","v":-6},{"g":"smeC","s":"XXSp1","v":-6},{"g":"smeC","s":"XXSp2","v":-6},{"g":"smeC","s":"XXSp3","v":-6},{"g":"smeC","s":"XXSu1","v":-6},{"g":"smeC","s":"XXSu2","v":-6},{"g":"smeC","s":"XXSu3","v":-6},{"g":"smeC","s":"XXA1","v":-6},{"g":"smeC","s":"XXA2","v":-6},{"g":"smeC","s":"XXA3","v":-6},
{"g":"smeD","s":"LHW1","v":-6},{"g":"smeD","s":"LHW2","v":-6},{"g":"smeD","s":"LHW3","v":-6},{"g":"smeD","s":"LHSp1","v":-6},{"g":"smeD","s":"LHSp2","v":-6},{"g":"smeD","s":"LHSp3","v":-6},{"g":"smeD","s":"LHSu1","v":-1.8},{"g":"smeD","s":"LHSu2","v":-3.35},{"g":"smeD","s":"LHSu3","v":-2.2},{"g":"smeD","s":"LHA1","v":-6},{"g":"smeD","s":"LHA2","v":-6},{"g":"smeD","s":"LHA3","v":-6},{"g":"smeD","s":"XXW1","v":-6},{"g":"smeD","s":"XXW2","v":-6},{"g":"smeD","s":"XXW3","v":-6},{"g":"smeD","s":"XXSp1","v":-6},{"g":"smeD","s":"XXSp2","v":-6},{"g":"smeD","s":"XXSp3","v":-6},{"g":"smeD","s":"XXSu1","v":-6},{"g":"smeD","s":"XXSu2","v":-6},{"g":"smeD","s":"XXSu3","v":-6},{"g":"smeD","s":"XXA1","v":-6},{"g":"smeD","s":"XXA2","v":-6},{"g":"smeD","s":"XXA3","v":-6},
{"g":"smeF","s":"LHW1","v":-6},{"g":"smeF","s":"LHW2","v":-6},{"g":"smeF","s":"LHW3","v":-6},{"g":"smeF","s":"LHSp1","v":-6},{"g":"smeF","s":"LHSp2","v":-6},{"g":"smeF","s":"LHSp3","v":-6},{"g":"smeF","s":"LHSu1","v":-1.9},{"g":"smeF","s":"LHSu2","v":-4.6},{"g":"smeF","s":"LHSu3","v":-2.25},{"g":"smeF","s":"LHA1","v":-6},{"g":"smeF","s":"LHA2","v":-6},{"g":"smeF","s":"LHA3","v":-6},{"g":"smeF","s":"XXW1","v":-6},{"g":"smeF","s":"XXW2","v":-6},{"g":"smeF","s":"XXW3","v":-6},{"g":"smeF","s":"XXSp1","v":-6},{"g":"smeF","s":"XXSp2","v":-6},{"g":"smeF","s":"XXSp3","v":-6},{"g":"smeF","s":"XXSu1","v":-6},{"g":"smeF","s":"XXSu2","v":-6},{"g":"smeF","s":"XXSu3","v":-6},{"g":"smeF","s":"XXA1","v":-6},{"g":"smeF","s":"XXA2","v":-6},{"g":"smeF","s":"XXA3","v":-6},
{"g":"mfpA","s":"LHW1","v":-6},{"g":"mfpA","s":"LHW2","v":-4.2},{"g":"mfpA","s":"LHW3","v":-4.2},{"g":"mfpA","s":"LHSp1","v":-6},{"g":"mfpA","s":"LHSp2","v":-6},{"g":"mfpA","s":"LHSp3","v":-6},{"g":"mfpA","s":"LHSu1","v":-6},{"g":"mfpA","s":"LHSu2","v":-6},{"g":"mfpA","s":"LHSu3","v":-6},{"g":"mfpA","s":"LHA1","v":-6},{"g":"mfpA","s":"LHA2","v":-6},{"g":"mfpA","s":"LHA3","v":-6},{"g":"mfpA","s":"XXW1","v":-2.7},{"g":"mfpA","s":"XXW2","v":-3.75},{"g":"mfpA","s":"XXW3","v":-2.6},{"g":"mfpA","s":"XXSp1","v":-6},{"g":"mfpA","s":"XXSp2","v":-3.7},{"g":"mfpA","s":"XXSp3","v":-6},{"g":"mfpA","s":"XXSu1","v":-6},{"g":"mfpA","s":"XXSu2","v":-6},{"g":"mfpA","s":"XXSu3","v":-6},{"g":"mfpA","s":"XXA1","v":-6},{"g":"mfpA","s":"XXA2","v":-6},{"g":"mfpA","s":"XXA3","v":-6},
{"g":"rifampin monooxygenase","s":"LHW1","v":-6},{"g":"rifampin monooxygenase","s":"LHW2","v":-6},{"g":"rifampin monooxygenase","s":"LHW3","v":-6},{"g":"rifampin monooxygenase","s":"LHSp1","v":-6},{"g":"rifampin monooxygenase","s":"LHSp2","v":-6},{"g":"rifampin monooxygenase","s":"LHSp3","v":-6},{"g":"rifampin monooxygenase","s":"LHSu1","v":-6},{"g":"rifampin monooxygenase","s":"LHSu2","v":-6},{"g":"rifampin monooxygenase","s":"LHSu3","v":-6},{"g":"rifampin monooxygenase","s":"LHA1","v":-6},{"g":"rifampin monooxygenase","s":"LHA2","v":-6},{"g":"rifampin monooxygenase","s":"LHA3","v":-6},{"g":"rifampin monooxygenase","s":"XXW1","v":-6},{"g":"rifampin monooxygenase","s":"XXW2","v":-6},{"g":"rifampin monooxygenase","s":"XXW3","v":-6},{"g":"rifampin monooxygenase","s":"XXSp1","v":-6},{"g":"rifampin monooxygenase","s":"XXSp2","v":-6},{"g":"rifampin monooxygenase","s":"XXSp3","v":-6},{"g":"rifampin monooxygenase","s":"XXSu1","v":-2.95},{"g":"rifampin monooxygenase","s":"XXSu2","v":-2.5},{"g":"rifampin monooxygenase","s":"XXSu3","v":-4.3},{"g":"rifampin monooxygenase","s":"XXA1","v":-6},{"g":"rifampin monooxygenase","s":"XXA2","v":-6},{"g":"rifampin monooxygenase","s":"XXA3","v":-6},
{"g":"sul1","s":"LHW1","v":-6},{"g":"sul1","s":"LHW2","v":-6},{"g":"sul1","s":"LHW3","v":-6},{"g":"sul1","s":"LHSp1","v":-3.15},{"g":"sul1","s":"LHSp2","v":-4.3},{"g":"sul1","s":"LHSp3","v":-2.7},{"g":"sul1","s":"LHSu1","v":-2.95},{"g":"sul1","s":"LHSu2","v":-3.0},{"g":"sul1","s":"LHSu3","v":-3.0},{"g":"sul1","s":"LHA1","v":-2.85},{"g":"sul1","s":"LHA2","v":-2.9},{"g":"sul1","s":"LHA3","v":-3.1},{"g":"sul1","s":"XXW1","v":-6},{"g":"sul1","s":"XXW2","v":-6},{"g":"sul1","s":"XXW3","v":-6},{"g":"sul1","s":"XXSp1","v":-6},{"g":"sul1","s":"XXSp2","v":-6},{"g":"sul1","s":"XXSp3","v":-6},{"g":"sul1","s":"XXSu1","v":-2.7},{"g":"sul1","s":"XXSu2","v":-2.65},{"g":"sul1","s":"XXSu3","v":-2.5},{"g":"sul1","s":"XXA1","v":-3.1},{"g":"sul1","s":"XXA2","v":-3.1},{"g":"sul1","s":"XXA3","v":-2.45},
{"g":"sul2","s":"LHW1","v":-6},{"g":"sul2","s":"LHW2","v":-6},{"g":"sul2","s":"LHW3","v":-6},{"g":"sul2","s":"LHSp1","v":-6},{"g":"sul2","s":"LHSp2","v":-6},{"g":"sul2","s":"LHSp3","v":-6},{"g":"sul2","s":"LHSu1","v":-6},{"g":"sul2","s":"LHSu2","v":-6},{"g":"sul2","s":"LHSu3","v":-6},{"g":"sul2","s":"LHA1","v":-2.45},{"g":"sul2","s":"LHA2","v":-2.35},{"g":"sul2","s":"LHA3","v":-2.0},{"g":"sul2","s":"XXW1","v":-6},{"g":"sul2","s":"XXW2","v":-6},{"g":"sul2","s":"XXW3","v":-6},{"g":"sul2","s":"XXSp1","v":-6},{"g":"sul2","s":"XXSp2","v":-6},{"g":"sul2","s":"XXSp3","v":-6},{"g":"sul2","s":"XXSu1","v":-2.0},{"g":"sul2","s":"XXSu2","v":-2.05},{"g":"sul2","s":"XXSu3","v":-3.4},{"g":"sul2","s":"XXA1","v":-1.4},{"g":"sul2","s":"XXA2","v":-3.15},{"g":"sul2","s":"XXA3","v":-4.55},
{"g":"tetracycline resistance protein","s":"LHW1","v":-6},{"g":"tetracycline resistance protein","s":"LHW2","v":-6},{"g":"tetracycline resistance protein","s":"LHW3","v":-6},{"g":"tetracycline resistance protein","s":"LHSp1","v":-6},{"g":"tetracycline resistance protein","s":"LHSp2","v":-6},{"g":"tetracycline resistance protein","s":"LHSp3","v":-6},{"g":"tetracycline resistance protein","s":"LHSu1","v":-6},{"g":"tetracycline resistance protein","s":"LHSu2","v":-6},{"g":"tetracycline resistance protein","s":"LHSu3","v":-6},{"g":"tetracycline resistance protein","s":"LHA1","v":-6},{"g":"tetracycline resistance protein","s":"LHA2","v":-6},{"g":"tetracycline resistance protein","s":"LHA3","v":-6},{"g":"tetracycline resistance protein","s":"XXW1","v":-6},{"g":"tetracycline resistance protein","s":"XXW2","v":-6},{"g":"tetracycline resistance protein","s":"XXW3","v":-6},{"g":"tetracycline resistance protein","s":"XXSp1","v":-6},{"g":"tetracycline resistance protein","s":"XXSp2","v":-6},{"g":"tetracycline resistance protein","s":"XXSp3","v":-6},{"g":"tetracycline resistance protein","s":"XXSu1","v":-2.05},{"g":"tetracycline resistance protein","s":"XXSu2","v":-4.4},{"g":"tetracycline resistance protein","s":"XXSu3","v":-4.25},{"g":"tetracycline resistance protein","s":"XXA1","v":-6},{"g":"tetracycline resistance protein","s":"XXA2","v":-6},{"g":"tetracycline resistance protein","s":"XXA3","v":-6},
{"g":"tetV","s":"LHW1","v":-3.05},{"g":"tetV","s":"LHW2","v":-3.05},{"g":"tetV","s":"LHW3","v":-2.85},{"g":"tetV","s":"LHSp1","v":-6},{"g":"tetV","s":"LHSp2","v":-6},{"g":"tetV","s":"LHSp3","v":-6},{"g":"tetV","s":"LHSu1","v":-3.3},{"g":"tetV","s":"LHSu2","v":-6},{"g":"tetV","s":"LHSu3","v":-3.3},{"g":"tetV","s":"LHA1","v":-6},{"g":"tetV","s":"LHA2","v":-6},{"g":"tetV","s":"LHA3","v":-3.05},{"g":"tetV","s":"XXW1","v":-6},{"g":"tetV","s":"XXW2","v":-6},{"g":"tetV","s":"XXW3","v":-6},{"g":"tetV","s":"XXSp1","v":-6},{"g":"tetV","s":"XXSp2","v":-6},{"g":"tetV","s":"XXSp3","v":-6},{"g":"tetV","s":"XXSu1","v":-6},{"g":"tetV","s":"XXSu2","v":-6},{"g":"tetV","s":"XXSu3","v":-6},{"g":"tetV","s":"XXA1","v":-2.95},{"g":"tetV","s":"XXA2","v":-3.45},{"g":"tetV","s":"XXA3","v":-3.7},
{"g":"vanR","s":"LHW1","v":-6},{"g":"vanR","s":"LHW2","v":-6},{"g":"vanR","s":"LHW3","v":-6},{"g":"vanR","s":"LHSp1","v":-6},{"g":"vanR","s":"LHSp2","v":-6},{"g":"vanR","s":"LHSp3","v":-6},{"g":"vanR","s":"LHSu1","v":-6},{"g":"vanR","s":"LHSu2","v":-6},{"g":"vanR","s":"LHSu3","v":-6},{"g":"vanR","s":"LHA1","v":-6},{"g":"vanR","s":"LHA2","v":-6},{"g":"vanR","s":"LHA3","v":-6},{"g":"vanR","s":"XXW1","v":-6},{"g":"vanR","s":"XXW2","v":-6},{"g":"vanR","s":"XXW3","v":-6},{"g":"vanR","s":"XXSp1","v":-6},{"g":"vanR","s":"XXSp2","v":-6},{"g":"vanR","s":"XXSp3","v":-6},{"g":"vanR","s":"XXSu1","v":-2.3},{"g":"vanR","s":"XXSu2","v":-2.6},{"g":"vanR","s":"XXSu3","v":-4.5},{"g":"vanR","s":"XXA1","v":-2.7},{"g":"vanR","s":"XXA2","v":-6},{"g":"vanR","s":"XXA3","v":-3.0}
 ]
},
"vconcat": [
 {"spacing": 0, "hconcat": [
 {"width": 1, "height": 1, "view": {"stroke": null}, "data": {"values": []}, "mark": "rect", "encoding": {}},
 {
  "width": 656, "height": 346,
  "view": {"stroke": "#9a9a9a"},
  "layer": [
   {
    "data": {"name": "bars"},
    "mark": {"type": "bar", "stroke": "white", "strokeWidth": 0.7},
    "encoding": {
     "x": {"field": "sample", "type": "nominal", "sort": ["LHW1","LHW2","LHW3","LHSp1","LHSp2","LHSp3","LHSu1","LHSu2","LHSu3","LHA1","LHA2","LHA3","XXW1","XXW2","XXW3","XXSp1","XXSp2","XXSp3","XXSu1","XXSu2","XXSu3","XXA1","XXA2","XXA3"],
           "scale": {"paddingInner": 0.1, "paddingOuter": 0.15},
           "axis": {"title": "Sample", "labelAngle": 0, "labelFontSize": 9, "tickSize": 3, "labelPadding": 1, "titleFontSize": 12, "titleFontWeight": "bold", "titlePadding": 1, "labelOverlap": false, "domain": false}},
     "y": {"field": "value", "type": "quantitative", "stack": "zero",
           "scale": {"domain": [-0.0066, 0.1397], "nice": false, "zero": false},
           "axis": {"title": "ARG relative abundance (cpc)", "values": [0, 0.05, 0.1], "format": ".2f", "labelFontSize": 8.5, "tickSize": 3, "labelPadding": 1, "titleFontSize": 11, "titlePadding": 1, "domain": false}},
     "color": {"field": "Type", "type": "nominal",
               "scale": {"domain": ["aminoglycoside","bacitracin","beta-lactam","chloramphenicol","fosmidomycin","multidrug","quinolone","rifamycin","sulfonamide","tetracycline","vancomycin"],
                         "range": ["#8DBFE0","#0A69AB","#7DBB7A","#5B9550","#EE5E5E","#F06E4C","#F7913A","#DC9A8E","#6D5494","#F6E391","#AE5426"]},
               "legend": {"orient": "none", "legendX": 702, "legendY": 98, "title": "Type", "titleFontSize": 17, "labelFontSize": 11.5, "symbolType": "square", "symbolSize": 110, "rowPadding": 0, "labelOffset": 9, "titlePadding": 4.5, "symbolStrokeWidth": 0}},
     "order": {"field": "Type", "sort": "descending"}
    }
   },
   {
    "data": {"values": [{}]},
    "mark": {"type": "text", "text": "a", "fontSize": 26, "align": "left", "baseline": "alphabetic", "color": "black"},
    "encoding": {"x": {"datum": "LHW1", "type": "nominal", "bandPosition": 0}, "y": {"datum": 0.1325, "type": "quantitative"}}
   }
  ]
 }]},
 {"spacing": 0, "hconcat": [
 {"width": 2, "height": 1, "view": {"stroke": null}, "data": {"values": []}, "mark": "rect", "encoding": {}},
 {
  "width": 455, "height": 644,
  "view": {"stroke": "#7a7a7a"},
  "layer": [
   {
    "data": {"name": "ellipse"},
    "mark": {"type": "line", "interpolate": "cardinal-closed", "strokeDash": [4, 3], "strokeWidth": 1},
    "encoding": {
     "x": {"field": "PCoA1", "type": "quantitative", "scale": {"domain": [-0.781, 0.949], "nice": false, "zero": false},
           "axis": {"title": "PCoA1(27.87%)", "values": [-0.5, 0, 0.5], "labelExpr": "datum.value < 0 ? '-' + format(-datum.value, '.1f') : format(datum.value, '.1f')", "labelFontSize": 15.5, "titleFontSize": 20, "tickSize": 6, "labelPadding": 3, "titlePadding": 9, "domain": false}},
     "y": {"field": "PCoA2", "type": "quantitative", "scale": {"domain": [-0.946, 1.37], "nice": false, "zero": false},
           "axis": {"title": "PCoA2(21.12%)", "values": [-0.5, 0, 0.5, 1], "labelExpr": "datum.value < 0 ? '-' + format(-datum.value, '.1f') : format(datum.value, '.1f')", "labelFontSize": 15.5, "titleFontSize": 20, "tickSize": 6, "labelPadding": 3, "titlePadding": 1, "domain": false}},
     "stroke": {"field": "grp", "type": "nominal", "scale": {"domain": ["Autumn","Spring","Summer","Winter"], "range": ["#F07A72","#74A030","#12A8C6","#A47FCC"]}, "legend": null},
     "order": {"field": "i", "type": "quantitative"}
    }
   },
   {
    "data": {"name": "pcoa"},
    "mark": {"type": "point", "filled": true, "opacity": 1, "size": 150},
    "encoding": {
     "x": {"field": "PCoA1", "type": "quantitative", "axis": {"title": "PCoA1(27.87%)"}},
     "y": {"field": "PCoA2", "type": "quantitative", "axis": {"title": "PCoA2(21.12%)"}},
     "color": {"field": "Season", "type": "nominal", "scale": {"range": ["#F0786C","#6E9B2E","#0AA2C0","#A47FC4"]},
               "legend": {"orient": "none", "legendX": 535, "legendY": 311, "title": "Season", "titleFontSize": 33, "labelFontSize": 31, "symbolType": "circle", "symbolSize": 190, "rowPadding": 0, "labelOffset": 20, "titlePadding": 14, "symbolStrokeWidth": 0}},
     "shape": {"field": "site", "type": "nominal", "scale": {"domain": ["LH","XX"], "range": ["circle","triangle-up"]},
               "legend": {"orient": "none", "legendX": 535, "legendY": 184, "title": "site", "titleFontSize": 33, "labelFontSize": 31, "symbolSize": 150, "symbolFillColor": "#1a1a1a", "symbolStrokeColor": "#1a1a1a", "rowPadding": 0, "labelOffset": 20, "titlePadding": 8}}
    }
   },
   {
    "data": {"name": "pcoa"},
    "mark": {"type": "text", "fontSize": 17, "color": "black"},
    "encoding": {
     "x": {"field": "lx", "type": "quantitative", "axis": {"title": "PCoA1(27.87%)"}},
     "y": {"field": "ly", "type": "quantitative", "axis": {"title": "PCoA2(21.12%)"}},
     "text": {"field": "sample"}
    }
   },
   {
    "data": {"values": [{}]},
    "mark": {"type": "text", "text": "b", "fontSize": 23, "align": "left", "baseline": "alphabetic", "color": "black"},
    "encoding": {"x": {"datum": -0.745, "type": "quantitative"}, "y": {"datum": 1.284, "type": "quantitative"}}
   }
  ]
 }]},
 {"spacing": 0, "hconcat": [
 {"width": 1, "height": 1, "view": {"stroke": null}, "data": {"values": []}, "mark": "rect", "encoding": {}},
 {
  "width": 413.5, "height": 577,
  "view": {"stroke": null},
  "resolve": {"scale": {"color": "independent"}, "axis": {"y": "independent"}},
  "layer": [
   {
    "data": {"name": "annot"},
    "mark": {"type": "rect", "xOffset": -2.5, "stroke": "#cfcfcf", "strokeWidth": 0.4},
    "encoding": {
     "x": {"datum": "Type", "type": "nominal",
           "scale": {"domain": ["Type","LHW1","LHW2","LHW3","LHSp1","LHSp2","LHSp3","LHSu1","LHSu2","LHSu3","LHA1","LHA2","LHA3","XXW1","XXW2","XXW3","XXSp1","XXSp2","XXSp3","XXSu1","XXSu2","XXSu3","XXA1","XXA2","XXA3"], "paddingInner": 0, "paddingOuter": 0},
           "axis": {"orient": "bottom", "title": null, "labelAngle": 90, "labelFontSize": 18, "labelColor": "black", "labelPadding": 4, "ticks": false, "domain": false, "labelOverlap": false, "labelFontWeight": {"condition": {"test": "datum.value === 'Type'", "value": "bold"}, "value": "normal"}}},
     "y": {"field": "gene", "type": "nominal",
           "scale": {"domain": ["aac(2)−I","aac(3)−I","aac(3)−IIIa","aph(3)−IIb","bacA","class A beta−lactamase","metallo−beta−lactamase","OXA−114","OXA−60","TEM−157","catB","rosB","acrB","bpeF","ceoB","emrE","mdtB","mexE","mexF","mexW","multidrug ABC transporter","multidrug transporter","oprM","oprN","qacEdelta1","smeC","smeD","smeF","mfpA","rifampin monooxygenase","sul1","sul2","tetracycline resistance protein","tetV","vanR"], "paddingInner": 0, "paddingOuter": 0},
           "axis": {"orient": "left", "title": "C", "titleAngle": 0, "titleFontSize": 22, "titleX": -1, "titleY": 7, "titleAlign": "right", "titleBaseline": "top", "labels": false, "ticks": false, "domain": false}},
     "color": {"field": "ARG", "type": "nominal",
               "scale": {"domain": ["aminoglycoside","bacitracin","beta-lactam","chloramphenicol","fosmidomycin","multidrug","quinolone","rifamycin","sulfonamide","tetracycline","vancomycin"],
                         "range": ["#F08A7C","#A68FC6","#D8A910","#F07FAB","#D47CB5","#08A090","#0BA5E2","#F5A02C","#03A35A","#68AC40","#1594D2"]},
               "legend": {"orient": "none", "legendX": 689, "legendY": 3, "title": "Type", "titleFontWeight": "bold", "titleFontSize": 16, "labelFontSize": 16, "symbolType": "square", "symbolSize": 540, "rowPadding": 0, "labelOffset": 6, "titlePadding": 0, "symbolStrokeColor": "#bbbbbb", "symbolStrokeWidth": 0.5,
                          "labelExpr": "datum.label == 'bacitracin' ? 'bacitracin beta' : datum.label == 'beta-lactam' ? '−lactam' : datum.label"}}
    }
   },
   {
    "data": {"name": "heat"},
    "mark": {"type": "rect", "stroke": "#9296C4", "strokeWidth": 0.6},
    "encoding": {
     "x": {"field": "s", "type": "nominal",
           "axis": {"orient": "bottom", "title": null, "labelAngle": 90, "labelFontSize": 18, "labelColor": "black", "labelPadding": 4, "ticks": false, "domain": false, "labelOverlap": false, "labelFontWeight": {"condition": {"test": "datum.value === 'Type'", "value": "bold"}, "value": "normal"}}},
     "y": {"field": "g", "type": "nominal",
           "axis": {"orient": "right", "title": null, "labelFontSize": 16.5, "labelFontStyle": "italic", "labelColor": "black", "labelPadding": 3, "ticks": false, "domain": false, "labelLimit": 400}},
     "color": {"field": "v", "type": "quantitative",
               "scale": {"domain": [-6, -3.6, -1.2], "range": ["#232571", "#FFFFFF", "#CD2029"], "interpolate": "rgb"},
               "legend": {"orient": "none", "legendX": 641, "legendY": 0, "title": null, "gradientLength": 165, "gradientThickness": 11, "labelFontSize": 16, "values": [-6, -5, -4, -3, -2], "gradientStrokeWidth": 0, "labelOffset": 4}}
    }
   }
  ]
 }]}
]
}
